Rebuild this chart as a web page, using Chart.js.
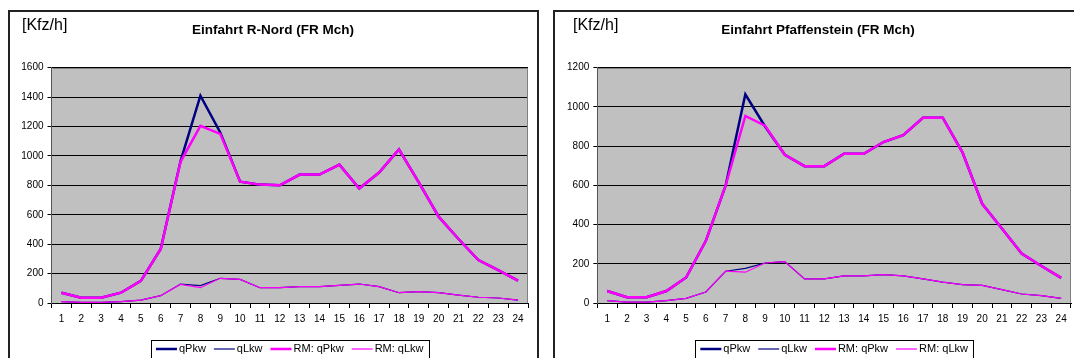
<!DOCTYPE html>
<html>
<head>
<meta charset="utf-8">
<script src="https://cdn.jsdelivr.net/npm/chart.js@4"></script>
<style>
  html, body { margin: 0; padding: 0; background: #fff; overflow: hidden; width: 1074px; height: 358px; }
  .panel { position: absolute; top: 0; width: 546px; height: 380px; }
</style>
</head>
<body>
<div class="panel" style="left:0"><canvas id="nord" width="546" height="380"></canvas></div>
<div class="panel" style="left:546px"><canvas id="pfaff" width="546" height="380"></canvas></div>
<script>
// Hour of day (x axis categories)
const hours = ['1','2','3','4','5','6','7','8','9','10','11','12','13','14','15','16','17','18','19','20','21','22','23','24'];

// Einfahrt R-Nord (FR Mch), vehicles per hour
const nordQPkw   = [70, 36, 36, 70, 150, 367, 965, 1410, 1160, 825, 805, 800, 873, 873, 941, 778, 887, 1045, 820, 587, 435, 292, 224, 152];
const nordQLkw   = [9, 4, 4, 9, 20, 50, 129, 118, 168, 161, 104, 104, 111, 111, 120, 129, 111, 70, 77, 70, 54, 39, 34, 20];
const nordRmQPkw = [70, 36, 36, 70, 150, 367, 960, 1205, 1150, 825, 805, 800, 873, 873, 941, 778, 887, 1045, 820, 587, 435, 292, 224, 152];
const nordRmQLkw = [9, 4, 4, 9, 20, 50, 126, 104, 168, 161, 104, 104, 111, 111, 120, 129, 111, 70, 77, 70, 54, 39, 34, 20];

// Einfahrt Pfaffenstein (FR Mch), vehicles per hour
const pfaffQPkw   = [61, 29, 29, 61, 130, 317, 598, 1064, 900, 756, 698, 698, 761, 761, 821, 856, 945, 945, 768, 506, 380, 252, 189, 128];
const pfaffQLkw   = [12, 4, 4, 12, 24, 56, 162, 177, 204, 211, 123, 123, 138, 138, 145, 138, 123, 106, 94, 90, 68, 46, 38, 24];
const pfaffRmQPkw = [61, 29, 29, 61, 130, 317, 598, 954, 904, 756, 698, 698, 761, 761, 821, 856, 945, 945, 768, 506, 380, 252, 189, 128];
const pfaffRmQLkw = [12, 4, 4, 12, 24, 56, 162, 157, 204, 211, 123, 123, 138, 138, 145, 138, 123, 106, 94, 90, 68, 46, 38, 24];

const seriesLabels = ['qPkw', 'qLkw', 'RM: qPkw', 'RM: qLkw'];
const unitLabel = '[Kfz/h]';

const FONT = '"Liberation Sans", Arial, sans-serif';
const NAVY = '#000080';
const MAGENTA = '#FF00FF';

// Chart frame, plot background, unit label, title and boxed legend
const excelSheet = {
  id: 'excelSheet',
  beforeDraw(chart, args, o) {
    const ctx = chart.ctx;
    const a = chart.chartArea;
    ctx.save();
    ctx.fillStyle = '#fff';
    ctx.fillRect(0, 0, chart.width, chart.height);
    ctx.fillStyle = '#C0C0C0';
    ctx.fillRect(a.left, a.top, a.right - a.left, a.bottom - a.top);
    ctx.restore();
  },
  afterDraw(chart, args, o) {
    const ctx = chart.ctx;
    const a = chart.chartArea;
    ctx.save();
    // plot area edge
    ctx.strokeStyle = '#808080';
    ctx.lineWidth = 1;
    ctx.beginPath();
    ctx.moveTo(Math.round(a.left) + 0.5, Math.round(a.top) + 0.5);
    ctx.lineTo(Math.round(a.right) - 0.5, Math.round(a.top) + 0.5);
    ctx.lineTo(Math.round(a.right) - 0.5, Math.round(a.bottom));
    ctx.stroke();

    // outer frame
    ctx.strokeStyle = '#222';
    ctx.lineWidth = 2;
    ctx.strokeRect(o.frameX, o.frameY, o.frameW, o.frameH);

    // unit label
    ctx.fillStyle = '#000';
    ctx.textBaseline = 'middle';
    ctx.textAlign = 'left';
    ctx.font = '16px ' + FONT;
    ctx.fillText(unitLabel, o.unitX, o.unitY);

    // title
    ctx.textAlign = 'center';
    ctx.font = 'bold 13.5px ' + FONT;
    ctx.fillText(o.title, o.titleX, o.titleY);

    // legend
    const ds = chart.data.datasets;
    ctx.font = '11px ' + FONT;
    const lineLen = 21, gapText = 2, gapItem = 8, padX = 5;
    const widths = ds.map(d => ctx.measureText(d.label).width);
    let total = widths.reduce((s, w) => s + lineLen + gapText + w, 0) + gapItem * (ds.length - 1);
    let x = (a.left + a.right) / 2 - total / 2;
    ctx.strokeStyle = '#000';
    ctx.lineWidth = 1;
    ctx.strokeRect(Math.round(x - padX) + 0.5, o.legendTop + 0.5, Math.round(total + 2 * padX), 40);
    const y = o.legendTop + 9;
    ctx.textAlign = 'left';
    ds.forEach((d, i) => {
      ctx.strokeStyle = d.borderColor;
      ctx.lineWidth = d.borderWidth;
      ctx.beginPath();
      ctx.moveTo(x, y);
      ctx.lineTo(x + lineLen, y);
      ctx.stroke();
      ctx.fillStyle = '#000';
      ctx.fillText(d.label, x + lineLen + gapText, y);
      x += lineLen + gapText + widths[i] + gapItem;
    });
    ctx.restore();
  }
};

function makeChart(id, values, yMax, layout, sheet) {
  const datasets = [
    { label: seriesLabels[0], data: values[0], borderColor: NAVY, borderWidth: 2.5, order: 2 },
    { label: seriesLabels[1], data: values[1], borderColor: NAVY, borderWidth: 1.2, order: 2 },
    { label: seriesLabels[2], data: values[2], borderColor: MAGENTA, borderWidth: 2.5, order: 1 },
    { label: seriesLabels[3], data: values[3], borderColor: MAGENTA, borderWidth: 1.2, order: 0 }
  ].map(d => Object.assign(d, { pointRadius: 0, pointHoverRadius: 0, tension: 0, fill: false }));

  return new Chart(document.getElementById(id), {
    type: 'line',
    data: { labels: hours, datasets },
    plugins: [excelSheet],
    options: {
      responsive: false,
      animation: false,
      devicePixelRatio: 1,
      events: [],
      layout: { padding: { left: 0, right: layout.right, top: layout.top, bottom: layout.bottom } },
      plugins: {
        legend: { display: false },
        title: { display: false },
        tooltip: { enabled: false },
        excelSheet: sheet
      },
      scales: {
        x: {
          offset: true,
          grid: { display: true, offset: true, drawOnChartArea: false, drawTicks: true, tickLength: 5, color: '#000' },
          border: { display: true, color: '#000', width: 1 },
          ticks: { color: '#000', font: { family: FONT, size: 10 }, padding: 5, maxRotation: 0, autoSkip: false },
          afterFit: s => { s.height = 30; }
        },
        y: {
          min: 0,
          max: yMax,
          grid: { color: '#000', lineWidth: 1, drawTicks: true, tickLength: 4 },
          border: { display: true, color: '#555', width: 1 },
          ticks: { stepSize: 200, color: '#000', font: { family: FONT, size: 10 }, padding: 4, callback: v => String(v) },
          afterFit: s => { s.width = layout.left; }
        }
      }
    }
  });
}

makeChart('nord', [nordQPkw, nordQLkw, nordRmQPkw, nordRmQLkw], 1600,
  { left: 51.5, right: 18, top: 67.7, bottom: 47 },
  { frameX: 9, frameY: 11, frameW: 529, frameH: 400, unitX: 22, unitY: 26, title: 'Einfahrt R-Nord (FR Mch)', titleX: 273, titleY: 30, legendTop: 340 });

makeChart('pfaff', [pfaffQPkw, pfaffQLkw, pfaffRmQPkw, pfaffRmQLkw], 1200,
  { left: 51.3, right: 21, top: 67.7, bottom: 47 },
  { frameX: 8, frameY: 11, frameW: 529, frameH: 400, unitX: 27, unitY: 26, title: 'Einfahrt Pfaffenstein (FR Mch)', titleX: 272, titleY: 30, legendTop: 340 });
</script>
</body>
</html>
